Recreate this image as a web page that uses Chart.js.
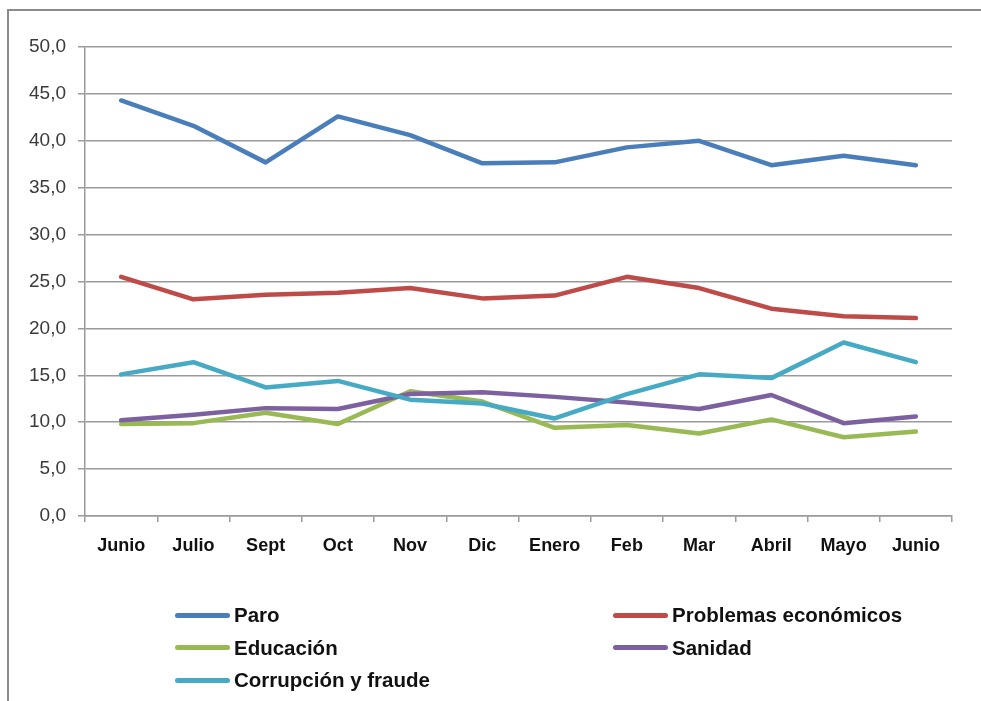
<!DOCTYPE html>
<html>
<head>
<meta charset="utf-8">
<script src="https://cdn.jsdelivr.net/npm/chart.js@4/dist/chart.umd.min.js"></script>
<style>
  html, body { margin: 0; padding: 0; background: #fff; }
  #wrap { position: relative; width: 981px; height: 701px; overflow: hidden; }
  #frame { position: absolute; left: 7px; top: 9px; width: 990px; height: 720px;
           border-left: 2px solid #8c8c8c; border-top: 2px solid #8c8c8c; }
  canvas { position: absolute; left: 0; top: 0; }
  #legend { position: absolute; left: 175px; top: 599px; display: grid;
            grid-template-columns: 438px 300px; grid-auto-rows: 32.5px;
            font-family: "Liberation Sans", Arial, sans-serif; font-weight: bold;
            font-size: 20.5px; color: #111; }
  .item { display: flex; align-items: center; white-space: nowrap; }
  .swatch { width: 55px; height: 5px; border-radius: 3px; margin-right: 4px; }
</style>
</head>
<body>
<div id="wrap">
  <div id="frame"></div>
  <canvas id="chart" width="981" height="701"></canvas>
  <div id="legend"></div>
</div>
<script>
// meses de la encuesta
const categories = ['Junio', 'Julio', 'Sept', 'Oct', 'Nov', 'Dic', 'Enero', 'Feb', 'Mar', 'Abril', 'Mayo', 'Junio'];

const paro       = [44.3, 41.6, 37.7, 42.6, 40.6, 37.6, 37.7, 39.3, 40.0, 37.4, 38.4, 37.4];
const problemas  = [25.5, 23.1, 23.6, 23.8, 24.3, 23.2, 23.5, 25.5, 24.3, 22.1, 21.3, 21.1];
const educacion  = [9.8, 9.9, 11.0, 9.8, 13.3, 12.2, 9.4, 9.7, 8.8, 10.3, 8.4, 9.0];
const sanidad    = [10.2, 10.8, 11.5, 11.4, 13.0, 13.2, 12.7, 12.1, 11.4, 12.9, 9.9, 10.6];
const corrupcion = [15.1, 16.4, 13.7, 14.4, 12.4, 12.0, 10.4, 13.0, 15.1, 14.7, 18.5, 16.4];

const seriesNames = ['Paro', 'Problemas económicos', 'Educación', 'Sanidad', 'Corrupción y fraude'];
const seriesData = [paro, problemas, educacion, sanidad, corrupcion];
const colors = ['#4A7EBB', '#BE4B48', '#98B954', '#7D60A0', '#46AAC5'];

const yTicks = [0, 5, 10, 15, 20, 25, 30, 35, 40, 45, 50];

const axisGray = '#9a9a9a';

const datasets = seriesNames.map((name, i) => ({
  label: name,
  data: seriesData[i],
  borderColor: colors[i],
  backgroundColor: colors[i],
  borderWidth: 4.5,
  borderCapStyle: 'round',
  borderJoinStyle: 'round',
  pointRadius: 0,
  tension: 0,
  order: seriesNames.length - i // later series on top, like Excel
}));

const chart = new Chart(document.getElementById('chart'), {
  type: 'line',
  data: { labels: categories, datasets: datasets },
  options: {
    responsive: false,
    animation: false,
    layout: { padding: { left: 20, top: 47, right: 29, bottom: 0 } },
    plugins: { legend: { display: false }, tooltip: { enabled: false } },
    scales: {
      x: {
        offset: true,
        grid: { offset: true, drawOnChartArea: false, drawTicks: true, tickLength: 6, color: axisGray, lineWidth: 1.5 },
        border: { color: axisGray, width: 1.5 },
        ticks: {
          padding: 13,
          color: '#111',
          font: { family: '"Liberation Sans", Arial, sans-serif', size: 18, weight: 'bold' },
          maxRotation: 0,
          autoSkip: false
        },
        afterFit: (scale) => { scale.height = 185; }
      },
      y: {
        min: 0,
        max: 50,
        afterBuildTicks: (scale) => { scale.ticks = yTicks.map(v => ({ value: v })); },
        grid: { color: axisGray, lineWidth: 1.5, tickLength: 7 },
        border: { color: axisGray, width: 1.5 },
        ticks: {
          padding: 12,
          color: '#3a3a3a',
          font: { family: '"Liberation Sans", Arial, sans-serif', size: 19 },
          callback: (v) => v.toFixed(1).replace('.', ',')
        },
        afterFit: (scale) => { scale.width = 65; }
      }
    }
  }
});

// leyenda en dos columnas, como en el original
const legend = document.getElementById('legend');
chart.data.datasets.forEach(ds => {
  const item = document.createElement('div');
  item.className = 'item';
  const sw = document.createElement('span');
  sw.className = 'swatch';
  sw.style.background = ds.borderColor;
  item.appendChild(sw);
  item.appendChild(document.createTextNode(ds.label));
  legend.appendChild(item);
});
</script>
</body>
</html>
